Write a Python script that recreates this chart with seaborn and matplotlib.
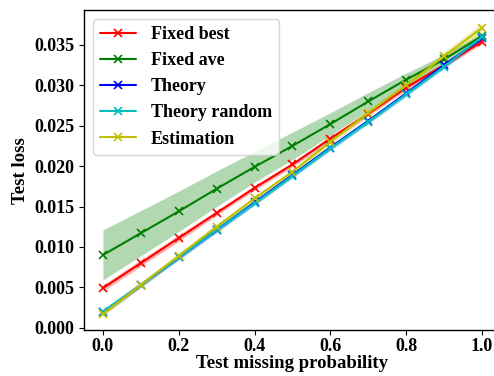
import numpy as np
import pandas as pd
import matplotlib
matplotlib.use("Agg")
import matplotlib.pyplot as plt
import seaborn as sns

# test missing probability
p = [0.0, 0.1, 0.2, 0.3, 0.4, 0.5, 0.6, 0.7, 0.8, 0.9, 1.0]

fixed_best = [0.0049, 0.0080, 0.0111, 0.0142, 0.0173, 0.0202, 0.0234, 0.0265, 0.0297, 0.0325, 0.0354]
fixed_best_lo = [0.0045, 0.0076, 0.0107, 0.0139, 0.0170, 0.0199, 0.0231, 0.0262, 0.0294, 0.0322, 0.0351]
fixed_best_hi = [0.0053, 0.0084, 0.0115, 0.0145, 0.0176, 0.0205, 0.0237, 0.0268, 0.0300, 0.0328, 0.0357]

fixed_ave = [0.0090, 0.0117, 0.0144, 0.0172, 0.0199, 0.0225, 0.0252, 0.0280, 0.0307, 0.0332, 0.0361]
fixed_ave_lo = [0.0059, 0.0089, 0.0119, 0.0150, 0.0180, 0.0208, 0.0238, 0.0269, 0.0299, 0.0326, 0.0357]
fixed_ave_hi = [0.0121, 0.0145, 0.0169, 0.0194, 0.0218, 0.0242, 0.0266, 0.0291, 0.0315, 0.0338, 0.0365]

theory = [0.0019, 0.0053, 0.0087, 0.0121, 0.0155, 0.0189, 0.0223, 0.0256, 0.0290, 0.0325, 0.0358]
theory_lo = [0.0016, 0.0050, 0.0084, 0.0118, 0.0152, 0.0186, 0.0220, 0.0253, 0.0287, 0.0322, 0.0355]
theory_hi = [0.0022, 0.0056, 0.0090, 0.0124, 0.0158, 0.0192, 0.0226, 0.0259, 0.0293, 0.0328, 0.0361]

theory_random = [0.0020, 0.0053, 0.0087, 0.0121, 0.0154, 0.0188, 0.0222, 0.0255, 0.0289, 0.0323, 0.0360]
theory_random_lo = [0.0017, 0.0050, 0.0084, 0.0118, 0.0151, 0.0185, 0.0219, 0.0252, 0.0286, 0.0320, 0.0357]
theory_random_hi = [0.0023, 0.0056, 0.0090, 0.0124, 0.0157, 0.0191, 0.0225, 0.0258, 0.0292, 0.0326, 0.0363]

estimation = [0.0017, 0.0053, 0.0089, 0.0125, 0.0160, 0.0193, 0.0230, 0.0266, 0.0300, 0.0336, 0.0371]
estimation_lo = [0.0014, 0.0050, 0.0086, 0.0122, 0.0157, 0.0190, 0.0226, 0.0262, 0.0296, 0.0331, 0.0365]
estimation_hi = [0.0020, 0.0056, 0.0092, 0.0128, 0.0163, 0.0196, 0.0234, 0.0270, 0.0304, 0.0341, 0.0377]

series = [
    ("Fixed best", fixed_best, fixed_best_lo, fixed_best_hi, "r"),
    ("Fixed ave", fixed_ave, fixed_ave_lo, fixed_ave_hi, "g"),
    ("Theory", theory, theory_lo, theory_hi, "b"),
    ("Theory random", theory_random, theory_random_lo, theory_random_hi, "c"),
    ("Estimation", estimation, estimation_lo, estimation_hi, "y"),
]

sns.set_style("ticks")
plt.rcParams["font.family"] = ["Liberation Serif", "DejaVu Serif"]
plt.rcParams["font.weight"] = "bold"
plt.rcParams["axes.labelweight"] = "bold"
for k in ["text.color", "axes.labelcolor", "xtick.color", "ytick.color", "axes.edgecolor"]:
    plt.rcParams[k] = "black"

fig = plt.figure(figsize=(4.94, 3.76), dpi=100)
ax = fig.add_axes([0.170, 0.122, 0.844, 0.851])

for name, vals, lo, hi, col in series:
    sns.lineplot(x=p, y=vals, color=col, marker="x", markersize=6,
                 markeredgecolor=col, markeredgewidth=1.2, linewidth=1.5,
                 label=name, ax=ax)
    ax.fill_between(p, lo, hi, color=col, alpha=0.3, linewidth=0)

ax.set_xlim(-0.05, 1.05)
ax.set_ylim(-0.0003, 0.0393)
ax.set_xticks([0.0, 0.2, 0.4, 0.6, 0.8, 1.0])
ax.set_yticks([0.000, 0.005, 0.010, 0.015, 0.020, 0.025, 0.030, 0.035])
ax.set_yticklabels(["0.000", "0.005", "0.010", "0.015", "0.020", "0.025", "0.030", "0.035"])
ax.tick_params(labelsize=13, colors="black")
ax.tick_params(axis="x", pad=2)
for lab in ax.get_xticklabels() + ax.get_yticklabels():
    lab.set_fontweight("bold")
ax.set_xlabel("Test missing probability", fontsize=13.5, fontweight="bold", labelpad=0)
ax.set_ylabel("Test loss", fontsize=13.5, fontweight="bold", labelpad=4)
for s in ax.spines.values():
    s.set_color("black")
    s.set_linewidth(1.0)

leg = ax.legend(loc="upper left", prop={"size": 13, "weight": "bold"})

fig.savefig("out.png", dpi=100)
